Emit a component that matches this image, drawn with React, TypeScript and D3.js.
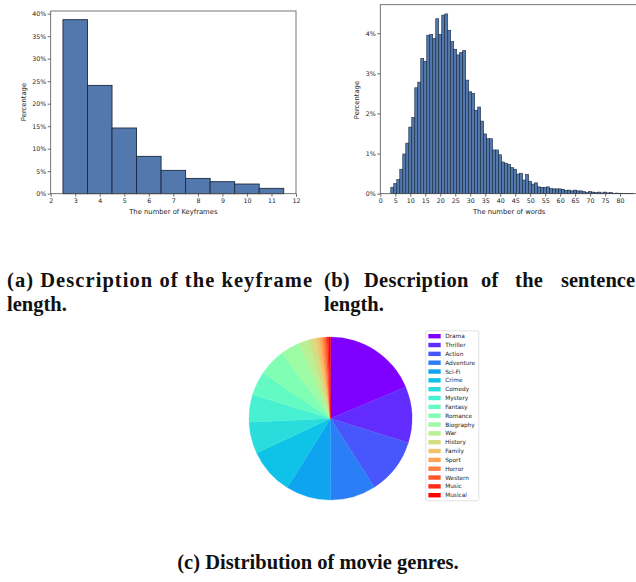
import { useEffect, useRef } from 'react';
import * as d3 from 'd3';

// (a) keyframe histogram
const keyframeCounts = [3, 4, 5, 6, 7, 8, 9, 10, 11];
const keyframePct = [38.67, 24.07, 14.6, 8.3, 5.19, 3.4, 2.67, 2.15, 1.19];

// (b) sentence length histogram, one bin per word count starting at 4
const wordStart = 4;
const wordPct = [
  0.16, 0.25, 0.35, 0.61, 0.99, 1.26, 1.66, 1.9, 2.64, 2.78,
  3.37, 3.3, 3.95, 3.97, 3.87, 4.36, 3.97, 4.45, 4.48, 4.07,
  3.79, 3.6, 3.46, 3.52, 3.57, 2.83, 2.54, 2.5, 2.08, 2.16,
  1.81, 1.49, 1.37, 1.37, 1.09, 1.09, 0.97, 0.79, 0.76, 0.73,
  0.65, 0.61, 0.49, 0.51, 0.34, 0.48, 0.31, 0.24, 0.27, 0.17,
  0.16, 0.16, 0.17, 0.13, 0.12, 0.12, 0.12, 0.11, 0.08, 0.09,
  0.07, 0.09, 0.07, 0.07, 0.05, 0.03, 0.05, 0.04, 0.03, 0.04,
  0.02, 0.04, 0.02, 0.03, 0.01, 0.015, 0.01, 0.01, 0.005, 0.005,
  0.003,
];

// (c) genres
const genres = [
  'Drama', 'Thriller', 'Action', 'Adventure', 'Sci-Fi', 'Crime', 'Comedy',
  'Mystery', 'Fantasy', 'Romance', 'Biography', 'War', 'History', 'Family',
  'Sport', 'Horror', 'Western', 'Music', 'Musical',
];
const genreShares = [
  18.69, 11.11, 11.17, 9.03, 8.89, 9.17, 6.22, 5.44, 4.72, 5.42,
  3.89, 1.94, 1.39, 0.78, 0.58, 0.44, 0.39, 0.33, 0.39,
];

const keyframeXTicks = [2, 3, 4, 5, 6, 7, 8, 9, 10, 11, 12];
const keyframeYTicks = [0, 5, 10, 15, 20, 25, 30, 35, 40];
const wordXTicks = [0, 5, 10, 15, 20, 25, 30, 35, 40, 45, 50, 55, 60, 65, 70, 75, 80];
const wordYTicks = [0, 1, 2, 3, 4];

const BAR_FILL = '#5278ad';
const BAR_EDGE = '#1c2a3e';
const SANS = '"DejaVu Sans", sans-serif';
const SERIF = '"Liberation Serif", "DejaVu Serif", serif';

// matplotlib "rainbow" colormap
const rainbow = (t: number) => {
  const r = Math.min(1, Math.abs(2 * t - 0.5));
  const g = Math.sin(Math.PI * t);
  const b = Math.cos((Math.PI / 2) * t);
  return d3.rgb(r * 255, g * 255, b * 255).formatHex();
};

const styleAxis = (g: any) => {
  g.select('.domain').remove();
  g.selectAll('line').attr('stroke', '#333').attr('stroke-width', 0.7);
  g.selectAll('text')
    .attr('fill', '#222')
    .style('font-family', SANS)
    .style('font-size', '6.3px');
};

const drawHist = (
  svg: any,
  opts: {
    left: number; right: number; top: number; bottom: number;
    xDomain: [number, number]; yDomain: [number, number];
    xs: number[]; ys: number[];
    xTicks: number[]; yTicks: number[];
    xLabel: string; edgeWidth: number;
  }
) => {
  const x = d3.scaleLinear().domain(opts.xDomain).range([opts.left, opts.right]);
  const y = d3.scaleLinear().domain(opts.yDomain).range([opts.bottom, opts.top]);
  const g = svg.append('g');

  g.selectAll('rect.bar')
    .data(opts.xs.map((v, i) => ({ v, p: opts.ys[i] })))
    .enter()
    .append('rect')
    .attr('class', 'bar')
    .attr('x', (d: any) => x(d.v - 0.5))
    .attr('width', (d: any) => x(d.v + 0.5) - x(d.v - 0.5))
    .attr('y', (d: any) => y(d.p))
    .attr('height', (d: any) => y(0) - y(d.p))
    .attr('fill', BAR_FILL)
    .attr('stroke', BAR_EDGE)
    .attr('stroke-width', opts.edgeWidth);

  // frame
  g.append('rect')
    .attr('x', opts.left)
    .attr('y', opts.top)
    .attr('width', opts.right - opts.left)
    .attr('height', opts.bottom - opts.top)
    .attr('fill', 'none')
    .attr('stroke', '#555')
    .attr('stroke-width', 0.8);

  g.append('g')
    .attr('transform', `translate(0,${opts.bottom})`)
    .call(d3.axisBottom(x).tickValues(opts.xTicks).tickSize(3).tickPadding(1.5).tickFormat(d3.format('d')))
    .call(styleAxis);

  g.append('g')
    .attr('transform', `translate(${opts.left},0)`)
    .call(d3.axisLeft(y).tickValues(opts.yTicks).tickSize(3).tickPadding(1.5).tickFormat((d: any) => `${d}%`))
    .call(styleAxis);

  g.append('text')
    .attr('x', (opts.left + opts.right) / 2)
    .attr('y', opts.bottom + 20)
    .attr('text-anchor', 'middle')
    .attr('fill', '#222')
    .style('font-family', SANS)
    .style('font-size', '6.8px')
    .text(opts.xLabel);

  return g;
};

const App = () => {
  const svgRef = useRef<SVGSVGElement>(null);

  useEffect(() => {
    const svg = d3.select(svgRef.current);
    svg.selectAll('*').remove();

    // (a)
    drawHist(svg, {
      left: 50.7, right: 296, top: 11, bottom: 193.7,
      xDomain: [2, 12], yDomain: [0, 40.6],
      xs: keyframeCounts, ys: keyframePct,
      xTicks: keyframeXTicks, yTicks: keyframeYTicks,
      xLabel: 'The number of Keyframes', edgeWidth: 0.9,
    });
    svg.append('text')
      .attr('transform', 'translate(26,102) rotate(-90)')
      .attr('text-anchor', 'middle')
      .attr('fill', '#222')
      .style('font-family', SANS)
      .style('font-size', '6.8px')
      .text('Percentage');

    // (b)
    drawHist(svg, {
      left: 380.3, right: 380.3 + 86 * 2.997, top: 4.7, bottom: 193.7,
      xDomain: [0, 86], yDomain: [0, 4.71],
      xs: wordPct.map((_, i) => wordStart + i), ys: wordPct,
      xTicks: wordXTicks, yTicks: wordYTicks,
      xLabel: 'The number of words', edgeWidth: 0.6,
    });
    svg.append('text')
      .attr('transform', 'translate(359,100) rotate(-90)')
      .attr('text-anchor', 'middle')
      .attr('fill', '#222')
      .style('font-family', SANS)
      .style('font-size', '6.8px')
      .text('Percentage');

    // captions (a) and (b)
    const cap = svg.append('g')
      .attr('fill', '#111')
      .style('font-family', SERIF)
      .style('font-weight', 'bold')
      .style('font-size', '20.5px');
    cap.append('text').attr('x', 7).attr('y', 287)
      .attr('textLength', 305).attr('lengthAdjust', 'spacing')
      .text('(a) Description of the keyframe');
    cap.append('text').attr('x', 7).attr('y', 311).text('length.');
    const bWords: [string, number][] = [['(b)', 324], ['Description', 364], ['of', 481], ['the', 515], ['sentence', 561]];
    bWords.forEach(([w, xPos]) => {
      cap.append('text').attr('x', xPos).attr('y', 287)
        .style('letter-spacing', w === 'sentence' ? '0px' : '0.3px')
        .text(w);
    });
    cap.append('text').attr('x', 324).attr('y', 311).text('length.');

    // (c) pie
    const cx = 330.5, cy = 418.5, radius = 81.5;
    const pie = d3.pie<number>().sort(null).value(d => d);
    const arc = d3.arc<d3.PieArcDatum<number>>().innerRadius(0).outerRadius(radius);
    const color = (i: number) => rainbow(i / (genres.length - 1));
    const pg = svg.append('g').attr('transform', `translate(${cx},${cy})`);
    pg.selectAll('path')
      .data(pie(genreShares))
      .enter()
      .append('path')
      .attr('d', arc as any)
      .attr('fill', (_: any, i: number) => color(i))
      .attr('stroke', (_: any, i: number) => color(i))
      .attr('stroke-width', 0.3);

    // legend
    const lg = svg.append('g');
    lg.append('rect')
      .attr('x', 425.8).attr('y', 330.8)
      .attr('width', 53).attr('height', 170)
      .attr('rx', 1.5)
      .attr('fill', 'white')
      .attr('stroke', '#d6d6d6')
      .attr('stroke-width', 0.7);
    const rowY = d3.scaleLinear().domain([0, genres.length - 1]).range([336.2, 495.2]);
    genres.forEach((name, i) => {
      lg.append('rect')
        .attr('x', 428.4).attr('y', rowY(i) - 2.2)
        .attr('width', 12.3).attr('height', 4.4)
        .attr('fill', color(i));
      lg.append('text')
        .attr('x', 445.2).attr('y', rowY(i) + 2)
        .attr('fill', '#222')
        .style('font-family', SANS)
        .style('font-size', '5.8px')
        .text(name);
    });

    svg.append('text')
      .attr('x', 318).attr('y', 569)
      .attr('text-anchor', 'middle')
      .attr('fill', '#111')
      .style('font-family', SERIF)
      .style('font-weight', 'bold')
      .style('font-size', '20.5px')
      .text('(c) Distribution of movie genres.');
  }, []);

  return (
    <svg
      ref={svgRef}
      width={636}
      height={582}
      style={{ position: 'absolute', left: 0, top: 0, background: 'white' }}
    />
  );
};

export default App;
